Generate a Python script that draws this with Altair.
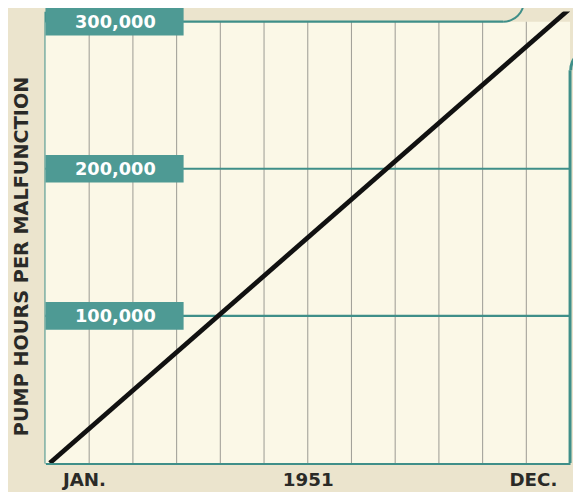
import math
import altair as alt
import pandas as pd

# ---- data ----
grid_months = list(range(1, 12))              # vertical monthly gridlines
line_month = [0.1, 12]                         # JAN. .. DEC.
line_value = [0, 309000]                       # pump hours per malfunction
level_values = [100000, 200000, 300000]
level_labels = ["100,000", "200,000", "300,000"]
level_line_end = [12, 12, 10.47]               # 300,000 line stops at the curved corner
x_label_text = ["JAN.", "1951", "DEC."]
x_label_month = [0.88, 6.0, 11.15]

TEAL = "#3f8f89"
BOX = "#4e9a94"
INK = "#2a2a27"
CREAM = "#fbf8e7"
FONT = "DejaVu Sans"

X = alt.Scale(domain=[0, 12], nice=False, zero=False)
Y = alt.Scale(domain=[0, 307000], nice=False)

interior = pd.DataFrame({"x0": [0], "x1": [12], "y0": [0], "y1": [300000]})
base_rect = alt.Chart(interior).mark_rect(color=CREAM).encode(
    x=alt.X("x0:Q", scale=X, axis=alt.Axis(
        values=x_label_month, title=None, grid=False, ticks=False,
        labelExpr="datum.value < 3 ? 'JAN.' : (datum.value < 9 ? '1951' : 'DEC.')",
        labelFont=FONT, labelFontWeight="bold", labelFontSize=18.5, labelColor=INK,
        labelPadding=8, domainColor=TEAL, domainWidth=3, labelFlush=False)),
    x2="x1:Q",
    y=alt.Y("y0:Q", scale=Y, axis=alt.Axis(
        title="PUMP HOURS PER MALFUNCTION", labels=False, ticks=False, grid=False,
        domainColor=TEAL, domainWidth=3, titleFont=FONT, titleFontWeight="bold",
        titleFontSize=19.5, titleColor=INK, titleAngle=-90, titleX=-24, titleY=248,
        titleAlign="center", titleBaseline="middle")),
    y2="y1:Q",
)

vgrid_df = pd.DataFrame({"m": grid_months, "y0": 0, "y1": 300000})
vgrid = alt.Chart(vgrid_df).mark_rule(color="#a3a29a", strokeWidth=1.1).encode(
    x=alt.X("m:Q", scale=X), y=alt.Y("y0:Q", scale=Y), y2="y1:Q")

level_df = pd.DataFrame({"v": level_values, "lab": level_labels,
                         "x0": 0, "x1": level_line_end})
hgrid = alt.Chart(level_df).mark_rule(color=TEAL, strokeWidth=2.2).encode(
    x=alt.X("x0:Q", scale=X), x2="x1:Q", y=alt.Y("v:Q", scale=Y))

right_df = pd.DataFrame({"m": [12], "y0": [0], "y1": [267000]})
right_border = alt.Chart(right_df).mark_rule(color=TEAL, strokeWidth=3).encode(
    x=alt.X("m:Q", scale=X), y=alt.Y("y0:Q", scale=Y), y2="y1:Q")

arc1 = alt.Chart(pd.DataFrame({"m": [10.47], "v": [314000]})).mark_arc(
    radius=22, radius2=20, theta=math.pi / 2, theta2=math.pi, color=TEAL).encode(
    x=alt.X("m:Q", scale=X), y=alt.Y("v:Q", scale=Y))
arc2 = alt.Chart(pd.DataFrame({"m": [12.5], "v": [267000]})).mark_arc(
    radius=23, radius2=20, theta=3 * math.pi / 2, theta2=2 * math.pi, color=TEAL).encode(
    x=alt.X("m:Q", scale=X), y=alt.Y("v:Q", scale=Y))

boxes = alt.Chart(level_df).transform_calculate(
    lo="datum.v - 9400", hi="datum.v + 9400", bx0="0", bx1="3.16"
).mark_rect(color=BOX).encode(
    x=alt.X("bx0:Q", scale=X), x2="bx1:Q",
    y=alt.Y("lo:Q", scale=Y), y2="hi:Q")

box_text = alt.Chart(level_df).transform_calculate(tx="1.6").mark_text(
    font=FONT, fontWeight="bold", fontSize=18, color="white",
    align="center", baseline="middle", dy=1).encode(
    x=alt.X("tx:Q", scale=X), y=alt.Y("v:Q", scale=Y), text="lab:N")

line_df = pd.DataFrame({"m": line_month, "v": line_value})
line = alt.Chart(line_df).mark_line(color="#111111", strokeWidth=4.8, clip=True).encode(
    x=alt.X("m:Q", scale=X), y=alt.Y("v:Q", scale=Y))

chart = alt.layer(base_rect, vgrid, hgrid, right_border, arc1, arc2,
                  boxes, box_text, line).properties(
    width=532, height=458,
    padding={"left": 38, "top": 0, "right": 3, "bottom": 26},
    autosize=alt.AutoSizeParams(type="none"),
    background="#ebe4cd",
).configure_view(stroke=None)

chart.save("out.html", embed_options={"renderer": "svg", "actions": False})
